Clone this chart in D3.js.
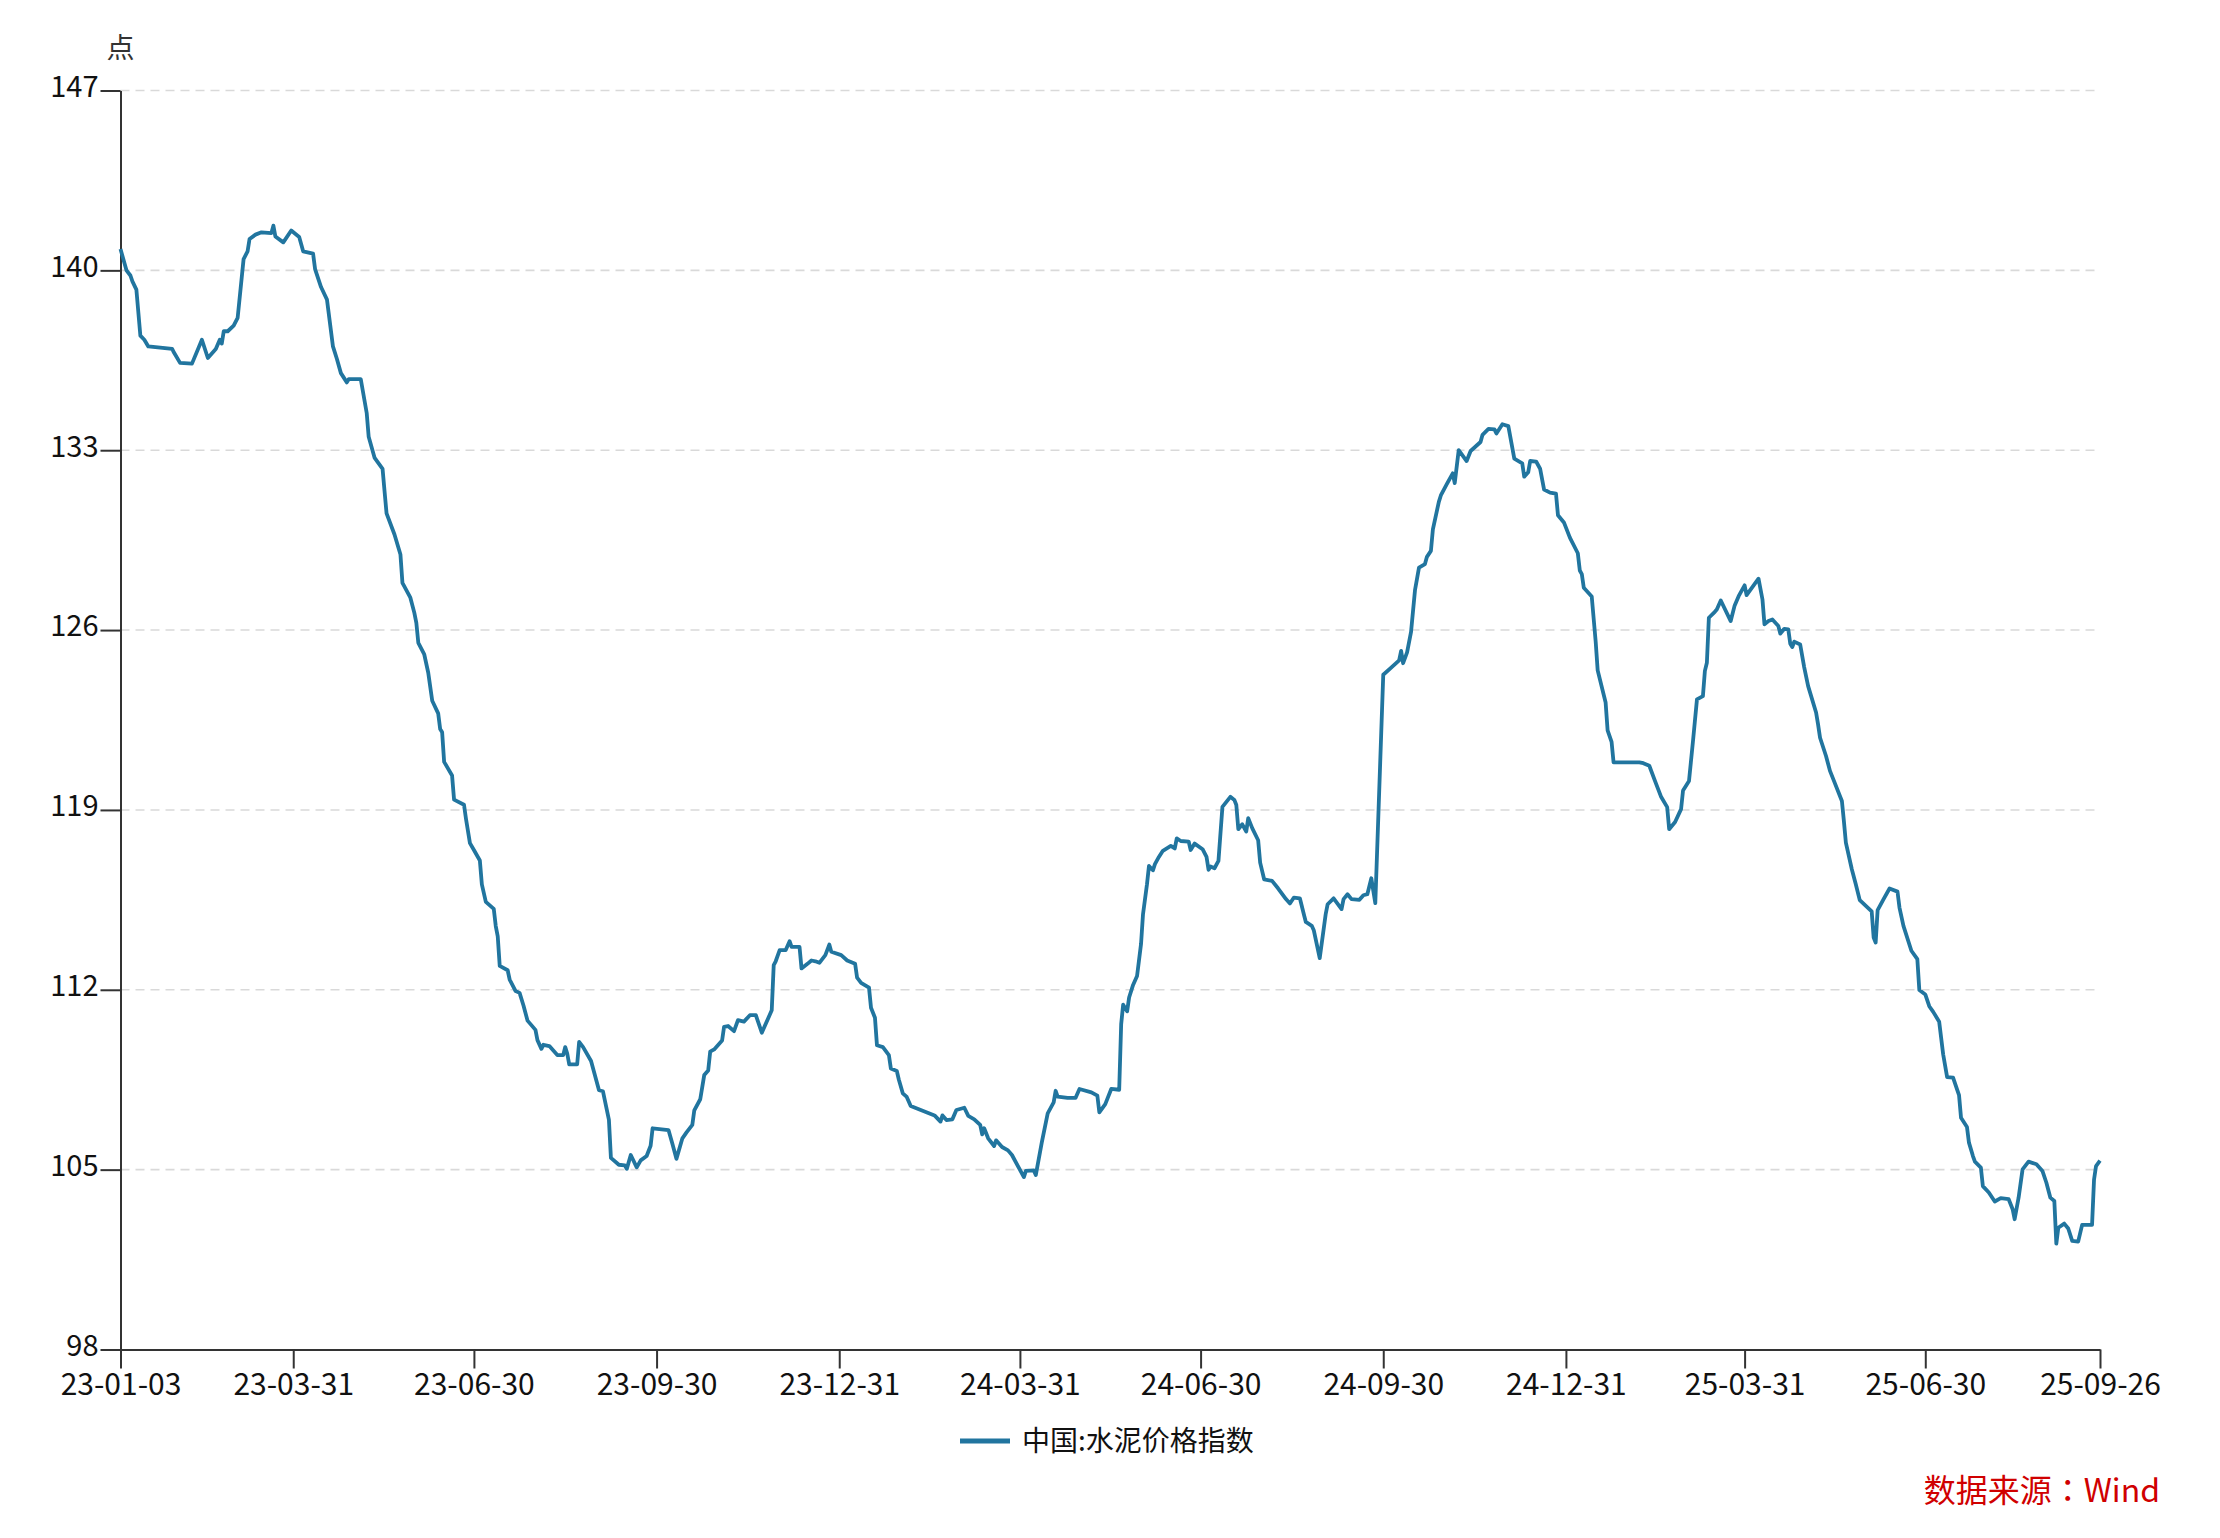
<!DOCTYPE html>
<html>
<head>
<meta charset="utf-8">
<script src="https://cdn.jsdelivr.net/npm/d3@7/dist/d3.min.js"></script>
<style>
  html, body { margin: 0; padding: 0; background: #ffffff; }
  svg { display: block; }
  text { font-family: "Noto Sans CJK SC", "Noto Sans", sans-serif; }
</style>
</head>
<body>
<svg id="chart" width="2220" height="1538"></svg>
<script>
// ---------------- data ----------------
const seriesName = "中国:水泥价格指数";
const unitLabel = "点";
const sourcePrefix = "数据来源";
const sourceColon = "：";
const sourceName = "Wind";

const dates = [
"2023-01-03","2023-01-06","2023-01-08","2023-01-09","2023-01-11","2023-01-13","2023-01-15","2023-01-17","2023-01-29","2023-01-30",
"2023-02-02","2023-02-08","2023-02-13","2023-02-16","2023-02-20","2023-02-22","2023-02-23","2023-02-24","2023-02-26","2023-03-01",
"2023-03-03","2023-03-06","2023-03-08","2023-03-09","2023-03-12","2023-03-15","2023-03-20","2023-03-21","2023-03-22","2023-03-26",
"2023-03-30","2023-04-03","2023-04-05","2023-04-10","2023-04-11","2023-04-14","2023-04-17","2023-04-20","2023-04-22","2023-04-24",
"2023-04-27","2023-04-28","2023-05-04","2023-05-07","2023-05-08","2023-05-11","2023-05-15","2023-05-16","2023-05-17","2023-05-21",
"2023-05-24","2023-05-25","2023-05-29","2023-05-31","2023-06-01","2023-06-02","2023-06-05","2023-06-07","2023-06-09","2023-06-12",
"2023-06-13","2023-06-14","2023-06-15","2023-06-19","2023-06-20","2023-06-25","2023-06-26","2023-06-28","2023-06-30","2023-07-03",
"2023-07-04","2023-07-06","2023-07-10","2023-07-11","2023-07-12","2023-07-13","2023-07-17","2023-07-18","2023-07-21","2023-07-23",
"2023-07-25","2023-07-27","2023-07-31","2023-08-01","2023-08-03","2023-08-04","2023-08-07","2023-08-11","2023-08-14","2023-08-15",
"2023-08-16","2023-08-17","2023-08-21","2023-08-22","2023-08-24","2023-08-28","2023-09-01","2023-09-03","2023-09-06","2023-09-07",
"2023-09-11","2023-09-14","2023-09-15","2023-09-17","2023-09-20","2023-09-22","2023-09-25","2023-09-27","2023-09-28","2023-10-06",
"2023-10-08","2023-10-10","2023-10-13","2023-10-15","2023-10-18","2023-10-19","2023-10-22","2023-10-24","2023-10-26","2023-10-27",
"2023-10-29","2023-11-02","2023-11-03","2023-11-05","2023-11-08","2023-11-10","2023-11-13","2023-11-16","2023-11-19","2023-11-22",
"2023-11-27","2023-11-28","2023-11-29","2023-12-01","2023-12-04","2023-12-06","2023-12-07","2023-12-11","2023-12-12","2023-12-15",
"2023-12-17","2023-12-19","2023-12-21","2023-12-24","2023-12-26","2023-12-27","2024-01-01","2024-01-04","2024-01-08","2024-01-09",
"2024-01-11","2024-01-15","2024-01-16","2024-01-18","2024-01-19","2024-01-22","2024-01-25","2024-01-26","2024-01-29","2024-01-30",
"2024-02-01","2024-02-03","2024-02-05","2024-02-17","2024-02-20","2024-02-21","2024-02-23","2024-02-26","2024-02-28","2024-03-03",
"2024-03-05","2024-03-08","2024-03-11","2024-03-12","2024-03-13","2024-03-15","2024-03-18","2024-03-19","2024-03-22","2024-03-25",
"2024-03-27","2024-04-02","2024-04-03","2024-04-07","2024-04-08","2024-04-11","2024-04-14","2024-04-17","2024-04-18","2024-04-19",
"2024-04-24","2024-04-28","2024-04-30","2024-05-06","2024-05-09","2024-05-10","2024-05-13","2024-05-16","2024-05-20","2024-05-21",
"2024-05-22","2024-05-24","2024-05-25","2024-05-27","2024-05-29","2024-05-31","2024-06-01","2024-06-03","2024-06-04","2024-06-06",
"2024-06-07","2024-06-09","2024-06-11","2024-06-15","2024-06-17","2024-06-18","2024-06-20","2024-06-24","2024-06-25","2024-06-27",
"2024-07-01","2024-07-03","2024-07-04","2024-07-05","2024-07-07","2024-07-09","2024-07-11","2024-07-15","2024-07-17","2024-07-18",
"2024-07-19","2024-07-21","2024-07-23","2024-07-24","2024-07-26","2024-07-29","2024-07-30","2024-08-01","2024-08-05","2024-08-08",
"2024-08-12","2024-08-14","2024-08-16","2024-08-19","2024-08-21","2024-08-22","2024-08-25","2024-08-26","2024-08-29","2024-09-01",
"2024-09-02","2024-09-05","2024-09-09","2024-09-10","2024-09-12","2024-09-14","2024-09-18","2024-09-20","2024-09-22","2024-09-24",
"2024-09-25","2024-09-26","2024-09-30","2024-10-04","2024-10-08","2024-10-09","2024-10-10","2024-10-12","2024-10-14","2024-10-16",
"2024-10-18","2024-10-21","2024-10-22","2024-10-24","2024-10-25","2024-10-28","2024-10-29","2024-11-01","2024-11-04","2024-11-05",
"2024-11-07","2024-11-11","2024-11-13","2024-11-18","2024-11-19","2024-11-22","2024-11-25","2024-11-26","2024-11-29","2024-12-02",
"2024-12-05","2024-12-09","2024-12-10","2024-12-12","2024-12-13","2024-12-16","2024-12-18","2024-12-20","2024-12-23","2024-12-26",
"2024-12-27","2024-12-30","2025-01-02","2025-01-06","2025-01-07","2025-01-08","2025-01-09","2025-01-13","2025-01-15","2025-01-16",
"2025-01-20","2025-01-21","2025-01-23","2025-01-24","2025-02-06","2025-02-08","2025-02-11","2025-02-14","2025-02-17","2025-02-20",
"2025-02-21","2025-02-24","2025-02-27","2025-02-28","2025-03-03","2025-03-05","2025-03-07","2025-03-10","2025-03-11","2025-03-12",
"2025-03-13","2025-03-16","2025-03-17","2025-03-19","2025-03-24","2025-03-26","2025-03-28","2025-03-31","2025-04-01","2025-04-07",
"2025-04-09","2025-04-10","2025-04-12","2025-04-14","2025-04-17","2025-04-18","2025-04-20","2025-04-22","2025-04-23","2025-04-24",
"2025-04-25","2025-04-28","2025-04-30","2025-05-02","2025-05-06","2025-05-07","2025-05-08","2025-05-11","2025-05-13","2025-05-15",
"2025-05-19","2025-05-20","2025-05-21","2025-05-24","2025-05-26","2025-05-28","2025-06-03","2025-06-04","2025-06-05","2025-06-06",
"2025-06-09","2025-06-12","2025-06-16","2025-06-17","2025-06-19","2025-06-23","2025-06-26","2025-06-27","2025-06-30","2025-07-02",
"2025-07-04","2025-07-07","2025-07-09","2025-07-11","2025-07-14","2025-07-16","2025-07-17","2025-07-18","2025-07-21","2025-07-22",
"2025-07-24","2025-07-25","2025-07-28","2025-07-29","2025-08-01","2025-08-04","2025-08-07","2025-08-11","2025-08-13","2025-08-14",
"2025-08-16","2025-08-18","2025-08-21","2025-08-25","2025-08-28","2025-08-30","2025-09-01","2025-09-03","2025-09-04","2025-09-05",
"2025-09-08","2025-09-10","2025-09-12","2025-09-15","2025-09-17","2025-09-22","2025-09-23","2025-09-24","2025-09-26"
];

const values = [
140.83,140.00,139.80,139.57,139.25,137.46,137.30,137.04,136.94,136.79,
136.40,136.37,137.30,136.59,136.94,137.30,137.15,137.63,137.63,137.85,
138.15,140.44,140.74,141.22,141.39,141.48,141.45,141.74,141.32,141.09,
141.55,141.30,140.74,140.65,140.05,139.35,138.86,137.04,136.55,136.00,
135.64,135.77,135.77,134.45,133.52,132.70,132.27,131.40,130.54,129.72,
128.94,127.84,127.26,126.67,126.28,125.50,125.05,124.34,123.25,122.76,
122.15,122.02,120.87,120.34,119.40,119.20,118.66,117.71,117.44,117.03,
116.10,115.42,115.15,114.48,114.08,112.93,112.76,112.40,111.95,111.88,
111.38,110.80,110.44,110.04,109.70,109.86,109.81,109.46,109.46,109.77,
109.52,109.10,109.10,109.97,109.77,109.23,108.09,108.05,106.94,105.46,
105.19,105.17,105.03,105.57,105.09,105.36,105.53,105.93,106.61,106.54,
106.00,105.42,106.22,106.44,106.74,107.31,107.74,108.68,108.86,109.59,
109.68,110.03,110.56,110.59,110.39,110.82,110.76,111.01,111.01,110.33,
111.20,112.96,113.11,113.54,113.54,113.89,113.67,113.67,112.83,113.01,
113.14,113.11,113.05,113.35,113.76,113.48,113.35,113.14,113.01,112.47,
112.27,112.08,111.30,110.91,109.84,109.77,109.46,108.94,108.84,108.51,
107.97,107.83,107.48,107.11,106.87,107.11,106.93,106.96,107.32,107.41,
107.09,106.96,106.74,106.37,106.61,106.22,105.92,106.14,105.88,105.75,
105.57,104.71,104.95,104.97,104.79,106.05,107.19,107.62,108.07,107.84,
107.79,107.79,108.14,108.01,107.88,107.23,107.55,108.14,108.11,110.66,
111.42,111.16,111.70,112.19,112.54,113.78,114.94,116.11,116.82,116.65,
116.89,117.17,117.41,117.60,117.50,117.89,117.79,117.77,117.44,117.69,
117.47,117.17,116.67,116.80,116.73,117.02,119.12,119.51,119.39,119.19,
118.25,118.44,118.16,118.68,118.29,117.82,116.95,116.30,116.24,115.95,
115.53,115.36,115.59,115.56,114.94,114.64,114.49,114.32,113.23,114.94,
115.33,115.56,115.14,115.53,115.72,115.53,115.50,115.68,115.72,116.34,
115.85,115.37,124.26,124.54,124.82,125.19,124.71,125.13,125.93,127.56,
128.43,128.57,128.85,129.08,129.92,130.99,131.24,131.68,132.10,131.72,
133.00,132.58,132.97,133.32,133.60,133.83,133.81,133.65,134.01,133.94,
132.67,132.49,131.97,132.14,132.58,132.56,132.28,131.47,131.35,131.31,
130.47,130.19,129.60,128.99,128.32,128.18,127.65,127.31,125.54,124.43,
123.18,122.10,121.65,120.85,120.85,120.82,120.72,120.10,119.50,119.11,
118.25,118.53,119.03,119.76,120.13,121.68,123.30,123.43,124.41,124.73,
126.48,126.71,126.80,127.15,126.35,126.96,127.32,127.74,127.36,128.00,
127.19,126.22,126.35,126.41,126.16,125.86,126.05,126.03,125.47,125.34,
125.55,125.44,124.56,123.82,122.79,122.33,121.81,121.10,120.52,120.13,
119.35,118.57,117.73,116.69,116.11,115.49,115.05,114.03,113.84,115.10,
115.53,115.94,115.82,115.20,114.49,113.52,113.19,111.99,111.82,111.36,
111.14,110.76,109.49,108.60,108.58,108.12,107.90,107.02,106.66,106.05,
105.53,105.31,105.08,104.36,104.11,103.76,103.89,103.85,103.46,103.07,
103.91,105.01,105.31,105.21,104.95,104.49,103.91,103.78,102.12,102.74,
102.90,102.71,102.23,102.20,102.85,102.85,104.62,105.14,105.35
];

const yTickValues = [98, 105, 112, 119, 126, 133, 140, 147];
const xTickDates = ["2023-01-03","2023-03-31","2023-06-30","2023-09-30","2023-12-31","2024-03-31",
                    "2024-06-30","2024-09-30","2024-12-31","2025-03-31","2025-06-30","2025-09-26"];
const xTickLabels = ["23-01-03","23-03-31","23-06-30","23-09-30","23-12-31","24-03-31",
                     "24-06-30","24-09-30","24-12-31","25-03-31","25-06-30","25-09-26"];

// ---------------- drawing ----------------
(function draw() {
  const parse = d3.utcParse("%Y-%m-%d");
  const data = dates.map((d, i) => ({ date: parse(d), value: values[i] }));
  const tickDates = xTickDates.map(parse);

  const mLeft = 120.5, mRight = 2100, mTop = 90.5, mBottom = 1349.5;
  const lineColor = "#21759f";
  const axisColor = "#333333";

  const svg = d3.select("#chart");

  const x = d3.scaleUtc()
    .domain([tickDates[0], tickDates[tickDates.length - 1]])
    .range([mLeft, mRight]);
  const y = d3.scaleLinear()
    .domain([98, 147])
    .range([mBottom, mTop]);

  // gridlines
  svg.append("g")
    .selectAll("line")
    .data(yTickValues.filter(v => v !== 98))
    .join("line")
    .attr("x1", mLeft).attr("x2", mRight)
    .attr("y1", d => y(d)).attr("y2", d => y(d))
    .attr("stroke", "#d9d9d9")
    .attr("stroke-width", 1.6)
    .attr("stroke-dasharray", "9,6");

  // y axis
  const yAxis = svg.append("g")
    .attr("transform", `translate(${mLeft},0)`)
    .call(d3.axisLeft(y).tickValues(yTickValues).tickSize(20).tickSizeOuter(0).tickPadding(2).tickFormat(d3.format("d")));
  yAxis.select(".domain").attr("stroke", axisColor).attr("stroke-width", 2);
  yAxis.selectAll(".tick line").attr("stroke", axisColor).attr("stroke-width", 2);
  yAxis.selectAll(".tick text")
    .attr("fill", "#111")
    .style("font-size", "29px")
    .attr("dy", "0.2em");

  // x axis
  const xAxis = svg.append("g")
    .attr("transform", `translate(0,${mBottom})`)
    .call(d3.axisBottom(x).tickValues(tickDates).tickSize(19).tickSizeOuter(0).tickPadding(5)
      .tickFormat((d, i) => xTickLabels[i]));
  xAxis.select(".domain").attr("stroke", axisColor).attr("stroke-width", 2);
  xAxis.selectAll(".tick line").attr("stroke", axisColor).attr("stroke-width", 2);
  xAxis.selectAll(".tick text")
    .attr("fill", "#111")
    .style("font-size", "30px");

  // unit label
  svg.append("text")
    .attr("x", mLeft).attr("y", 58)
    .attr("text-anchor", "middle")
    .attr("fill", "#333")
    .style("font-size", "28px")
    .text(unitLabel);

  // series line
  const line = d3.line()
    .x(d => x(d.date))
    .y(d => y(d.value));
  svg.append("path")
    .datum(data)
    .attr("fill", "none")
    .attr("stroke", lineColor)
    .attr("stroke-width", 3.8)
    .attr("stroke-linejoin", "round")
    .attr("d", line);

  // legend
  const lg = svg.append("g").attr("transform", "translate(960,1441)");
  lg.append("line")
    .attr("x1", 0).attr("x2", 50).attr("y1", 0).attr("y2", 0)
    .attr("stroke", lineColor).attr("stroke-width", 5);
  lg.append("text")
    .attr("x", 62).attr("y", 0)
    .attr("dy", "0.35em")
    .attr("fill", "#111")
    .style("font-size", "28px")
    .text(seriesName);

  // source
  const src = svg.append("text")
    .attr("x", 2160).attr("y", 1502)
    .attr("text-anchor", "end")
    .attr("fill", "#d00000")
    .style("font-size", "32px");
  src.append("tspan").text(sourcePrefix);
  src.append("tspan").style("font-family", '"Noto Sans CJK JP", "Noto Sans CJK SC", sans-serif').text(sourceColon);
  src.append("tspan").text(sourceName);
})();
</script>
</body>
</html>
